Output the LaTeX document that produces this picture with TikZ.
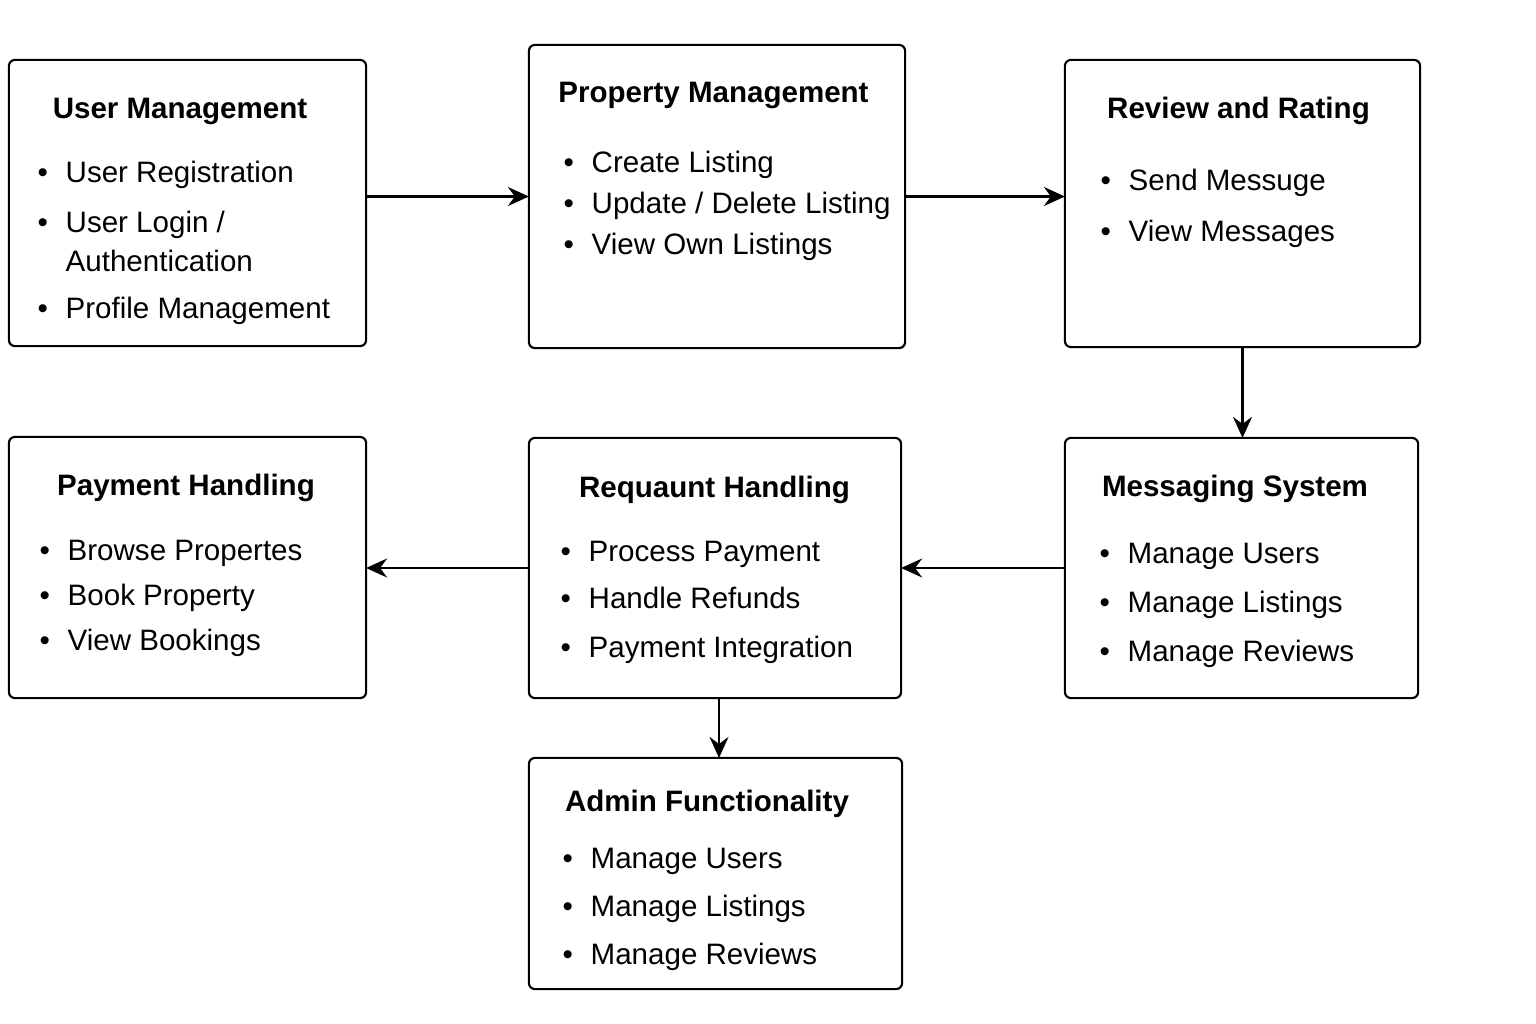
\documentclass[tikz,border=0pt]{standalone}
\usepackage{fontspec}
\setmainfont{Liberation Sans}
\usepackage{tikz}
\usetikzlibrary{arrows.meta}

\newcommand{\itm}[1]{\llap{\textbullet\hspace{0.6em}}#1}

\begin{document}
\begin{tikzpicture}[x=0.01cm, y=-0.01cm,
  box/.style={draw, line width=0.6pt, rounded corners=0.6mm, inner sep=0pt, outer sep=0pt},
  title/.style={font=\fontsize{8.4}{10}\selectfont\bfseries, anchor=base, inner sep=0pt},
  entry/.style={font=\fontsize{8.4}{10}\selectfont, anchor=base west, inner sep=0pt},
  >={Stealth[length=2.1mm,width=1.9mm,inset=0.7mm]}]

\useasboundingbox (0,0) rectangle (1536,1024);

% Boxes
\node [box, minimum width=3.57cm, minimum height=2.86cm] (user) at (187.5,203) {};
\node [box, minimum width=3.76cm, minimum height=3.03cm] (prop) at (717,196.5) {};
\node [box, minimum width=3.55cm, minimum height=2.87cm] (review) at (1242.5,203.5) {};
\node [box, minimum width=3.57cm, minimum height=2.61cm] (pay) at (187.5,567.5) {};
\node [box, minimum width=3.72cm, minimum height=2.60cm] (req) at (715,568) {};
\node [box, minimum width=3.53cm, minimum height=2.60cm] (msg) at (1241.5,568) {};
\node [box, minimum width=3.73cm, minimum height=2.31cm] (admin) at (715.5,873.5) {};

% Titles
\node [title] (usertitle) at (180,118) {User Management};
\node [title] (proptitle) at (713.5,102) {Property Management};
\node [title] (reviewtitle) at (1238.5,118) {Review and Rating};
\node [title] (paytitle) at (186,495) {Payment Handling};
\node [title] (reqtitle) at (714.5,497) {Requaunt Handling};
\node [title] (msgtitle) at (1235,496) {Messaging System};
\node [title] (admintitle) at (707,811) {Admin Functionality};

% Bullet lists
\node [entry] (user1) at (65,182) {\itm{User Registration}};
\node [entry] (user2) at (65,232) {\itm{User Login /}};
\node [entry] (user2b) at (65,271) {Authentication};
\node [entry] (user3) at (65,318) {\itm{Profile Management}};

\node [entry] (prop1) at (591,172) {\itm{Create Listing}};
\node [entry] (prop2) at (591,213) {\itm{Update / Delete Listing}};
\node [entry] (prop3) at (591,254) {\itm{View Own Listings}};

\node [entry] (review1) at (1128,190) {\itm{Send Messuge}};
\node [entry] (review2) at (1128,241) {\itm{View Messages}};

\node [entry] (pay1) at (67,560) {\itm{Browse Propertes}};
\node [entry] (pay2) at (67,605) {\itm{Book Property}};
\node [entry] (pay3) at (67,650) {\itm{View Bookings}};

\node [entry] (req1) at (588,561) {\itm{Process Payment}};
\node [entry] (req2) at (588,608) {\itm{Handle Refunds}};
\node [entry] (req3) at (588,657) {\itm{Payment Integration}};

\node [entry] (msg1) at (1127,563) {\itm{Manage Users}};
\node [entry] (msg2) at (1127,612) {\itm{Manage Listings}};
\node [entry] (msg3) at (1127,661) {\itm{Manage Reviews}};

\node [entry] (admin1) at (590,868) {\itm{Manage Users}};
\node [entry] (admin2) at (590,916) {\itm{Manage Listings}};
\node [entry] (admin3) at (590,964) {\itm{Manage Reviews}};

% Arrows between modules
\draw [->, line width=0.6pt] (user.east |- prop.west) -- (prop.west);
\draw [->, line width=0.6pt] (prop.east) -- (prop.east -| review.west);
\draw [->, line width=0.6pt] (review.south) -- (review.south |- msg.north);
\draw [->, line width=0.6pt] (msg.west) -- (req.east);
\draw [->, line width=0.6pt] (req.west) -- (req.west -| pay.east);
\draw [->, line width=0.6pt] ([xshift=0.04cm]req.south) -- ([xshift=0.04cm]req.south |- admin.north);

\end{tikzpicture}
\end{document}
